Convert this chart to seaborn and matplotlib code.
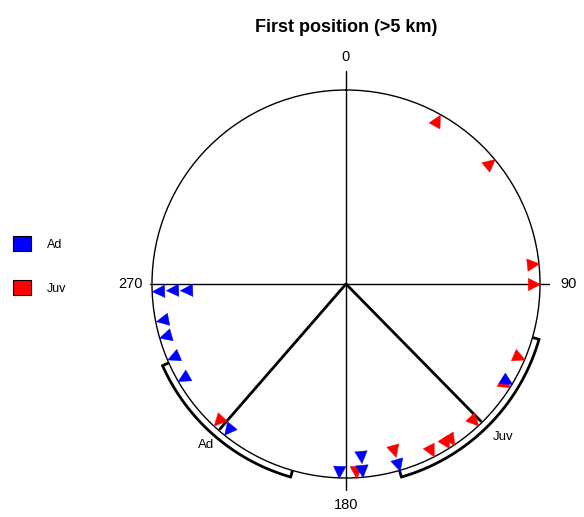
import numpy as np
import matplotlib
matplotlib.use("Agg")
import matplotlib.pyplot as plt
import seaborn as sns
from matplotlib.path import Path
from matplotlib.patches import Patch
from matplotlib.markers import MarkerStyle
from matplotlib.transforms import Affine2D

# bearings (degrees, clockwise from north)
ad_angles = [268, 268, 268, 259, 254, 247, 240, 219, 182, 175, 175, 164, 121]
juv_angles = [29, 50, 84, 90, 113, 122, 137, 146, 148, 153, 164, 177, 223]

# mean vectors and 95% confidence arcs
groups = ["Ad", "Juv"]
colors = {"Ad": "#0000ff", "Juv": "#ff0000"}
mean_dir = {"Ad": 221, "Juv": 135.5}
mean_len = {"Ad": 0.99, "Juv": 0.99}
ci_low = {"Ad": 196, "Juv": 106}
ci_high = {"Ad": 246, "Juv": 164}

sns.set_style("white")
plt.rcParams["font.family"] = ["Liberation Sans", "DejaVu Sans"]
plt.rcParams["text.color"] = "black"

fig = plt.figure(figsize=(5.84, 5.17), dpi=100)
ax = fig.add_axes([152 / 584, 39 / 517, 388 / 584, 388 / 517], projection="polar")
ax.set_theta_zero_location("N")
ax.set_theta_direction(-1)
ax.set_ylim(0, 1)
ax.grid(False)
ax.set_xticks([])
ax.set_yticks([])
ax.spines["polar"].set_linewidth(1.0)
ax.spines["polar"].set_color("black")

tri_path = Path([[0, 0.5], [-0.5, -0.5], [0.5, -0.5], [0, 0.5]])


def tri(bearing):
    # triangle pointing outward, rotated clockwise by the bearing
    return MarkerStyle(tri_path, transform=Affine2D().rotate_deg(-bearing))


# stack points sharing the same bearing inward
seen = {}
stacks = {"Ad": [], "Juv": []}
for g, angs in (("Ad", ad_angles), ("Juv", juv_angles)):
    for a in angs:
        k = seen.get(a, 0)
        stacks[g].append(k)
        seen[a] = k + 1

# crosshair
for th, rr in ((0, 1.10), (90, 1.045), (180, 1.06), (270, 1.01)):
    ax.plot([np.deg2rad(th)] * 2, [0, rr], color="black", lw=1.0, clip_on=False, zorder=1)

for g, angs in (("Juv", juv_angles), ("Ad", ad_angles)):
    for a, k in zip(angs, stacks[g]):
        sns.scatterplot(x=[np.deg2rad(a)], y=[0.968 - 0.072 * k], ax=ax, marker=tri(a),
                        s=80, color=colors[g], edgecolor=colors[g], linewidth=0.3,
                        clip_on=False, zorder=3, legend=False)

for g in groups:
    th = np.deg2rad(mean_dir[g])
    ax.plot([th, th], [0, mean_len[g]], color="black", lw=2, clip_on=False, zorder=2)
    arc = np.deg2rad(np.linspace(ci_low[g], ci_high[g], 100))
    ax.plot(arc, np.full_like(arc, 1.035), color="black", lw=2, clip_on=False, zorder=2)
    for end in (ci_low[g], ci_high[g]):
        ax.plot([np.deg2rad(end)] * 2, [1.005, 1.035], color="black", lw=2,
                clip_on=False, zorder=2)

ax.text(np.deg2rad(221), 1.10, "Ad", fontsize=9.5, ha="center", va="center")
ax.text(np.deg2rad(134.3), 1.13, "Juv", fontsize=9.5, ha="center", va="center")

# compass labels
for lab, th, rr in (("0", 0, 1.17), ("90", 90, 1.145), ("180", 180, 1.14), ("270", 270, 1.11)):
    ax.text(np.deg2rad(th), rr, lab, fontsize=10.5, ha="center", va="center")

fig.text(346 / 584, 1 - 28 / 517, "First position (>5 km)", fontsize=13,
         fontweight="bold", ha="center", va="center")

handles = [Patch(facecolor=colors[g], edgecolor="black", linewidth=0.8) for g in groups]
fig.legend(handles, groups, loc="upper left", bbox_to_anchor=(13 / 584, 1 - 236 / 517),
           frameon=False, fontsize=9, handlelength=1.4, handleheight=1.5,
           labelspacing=2.3, handletextpad=1.3, borderpad=0, borderaxespad=0)

fig.savefig("out.png", dpi=100, facecolor="white")
